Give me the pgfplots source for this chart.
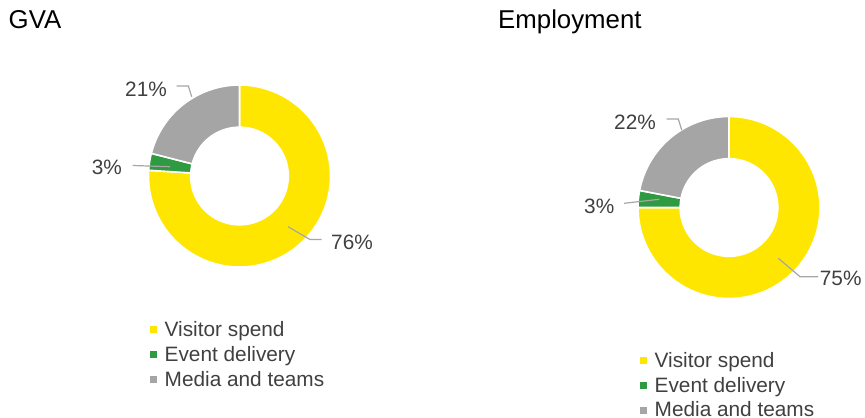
\documentclass[border=0pt]{standalone}
\usepackage{pgfplots}
\pgfplotsset{compat=1.18}
\usepackage{fontspec}
\setmainfont{Liberation Sans}
\definecolor{yel}{HTML}{FFE600}
\definecolor{grn}{HTML}{2E9A41}
\definecolor{gry}{HTML}{A5A5A5}
\definecolor{lead}{HTML}{A6A6A6}
\definecolor{txt}{HTML}{404040}
\newcommand{\lblfont}{\fontsize{20.8bp}{25bp}\selectfont}
\newcommand{\ttlfont}{\fontsize{25.8bp}{30bp}\selectfont}
% #1 cx, #2 cy, #3 start cumulative %, #4 end cumulative %, #5 colour
\newcommand{\slice}[5]{%
\addplot[fill=#5, draw=white, line width=1.6bp, domain=0:2.005, samples=402, variable=\t]
 ({#1 + ((\t<1.0025)*91 + (\t>=1.0025)*48.8)*cos(90-3.6*(#3 + (#4-#3)*min(1,\t,2.005-\t)))},
  {#2 - ((\t<1.0025)*91 + (\t>=1.0025)*48.8)*sin(90-3.6*(#3 + (#4-#3)*min(1,\t,2.005-\t)))}) -- cycle;}
\begin{document}
\begin{tikzpicture}
\path[use as bounding box] (0,0) rectangle (865bp,418bp);
\begin{axis}[at={(0,0)}, anchor=south west, scale only axis,
  width=865bp, height=418bp, xmin=0, xmax=865, ymin=0, ymax=418,
  y dir=reverse, axis lines=none, ticks=none, clip=false]
% GVA: Visitor spend 76, Event delivery 3, Media and teams 21
\slice{239.5}{176}{0}{76}{yel}
\slice{239.5}{176}{76}{79}{grn}
\slice{239.5}{176}{79}{100}{gry}
% Employment: Visitor spend 75, Event delivery 3, Media and teams 22
\slice{729}{207.5}{0}{75}{yel}
\slice{729}{207.5}{75}{78}{grn}
\slice{729}{207.5}{78}{100}{gry}
% leader lines
\addplot[lead, line width=1.2bp] coordinates {(288,226.7) (310,239.5) (321.7,239.5)};
\addplot[lead, line width=1.2bp] coordinates {(170,166.7) (132.7,165.5)};
\addplot[lead, line width=1.2bp] coordinates {(176.7,86) (188.3,86) (191.7,96.7)};
\addplot[lead, line width=1.2bp] coordinates {(778.3,258.3) (800,276.7) (818,276.7)};
\addplot[lead, line width=1.2bp] coordinates {(659.3,199.3) (624,203.3)};
\addplot[lead, line width=1.2bp] coordinates {(666.7,119) (678.3,119) (681.7,130)};
% legend markers
\addplot[only marks, mark=square*, mark size=3bp, mark options={fill=yel, draw=yel}] coordinates {(153,329.5) (643,360)};
\addplot[only marks, mark=square*, mark size=3bp, mark options={fill=grn, draw=grn}] coordinates {(153,354.5) (643,385)};
\addplot[only marks, mark=square*, mark size=3bp, mark options={fill=gry, draw=gry}] coordinates {(153,379.5) (643,410)};
% titles
\node[anchor=base west, inner sep=0pt, font=\ttlfont, text=black] at (axis cs:8.5,29) {GVA};
\node[anchor=base west, inner sep=0pt, font=\ttlfont, text=black] at (axis cs:498,29) {Employment};
% data labels
\begin{scope}[every node/.style={anchor=base west, inner sep=0pt, font=\lblfont, text=txt}]
\node at (axis cs:331,249.1) {76\%};
\node at (axis cs:91.7,174.1) {3\%};
\node at (axis cs:125,96.4) {21\%};
\node at (axis cs:819.7,285.7) {75\%};
\node at (axis cs:584,213.4) {3\%};
\node at (axis cs:614,129.1) {22\%};
% legends
\node at (axis cs:164.5,336.7) {Visitor spend};
\node at (axis cs:164.5,361.7) {Event delivery};
\node at (axis cs:164.5,386.7) {Media and teams};
\node at (axis cs:654.5,367.3) {Visitor spend};
\node at (axis cs:654.5,392.3) {Event delivery};
\node[text depth=0pt] at (axis cs:654.5,416.5) {Media and teams};
\end{scope}
\end{axis}
\end{tikzpicture}
\end{document}
